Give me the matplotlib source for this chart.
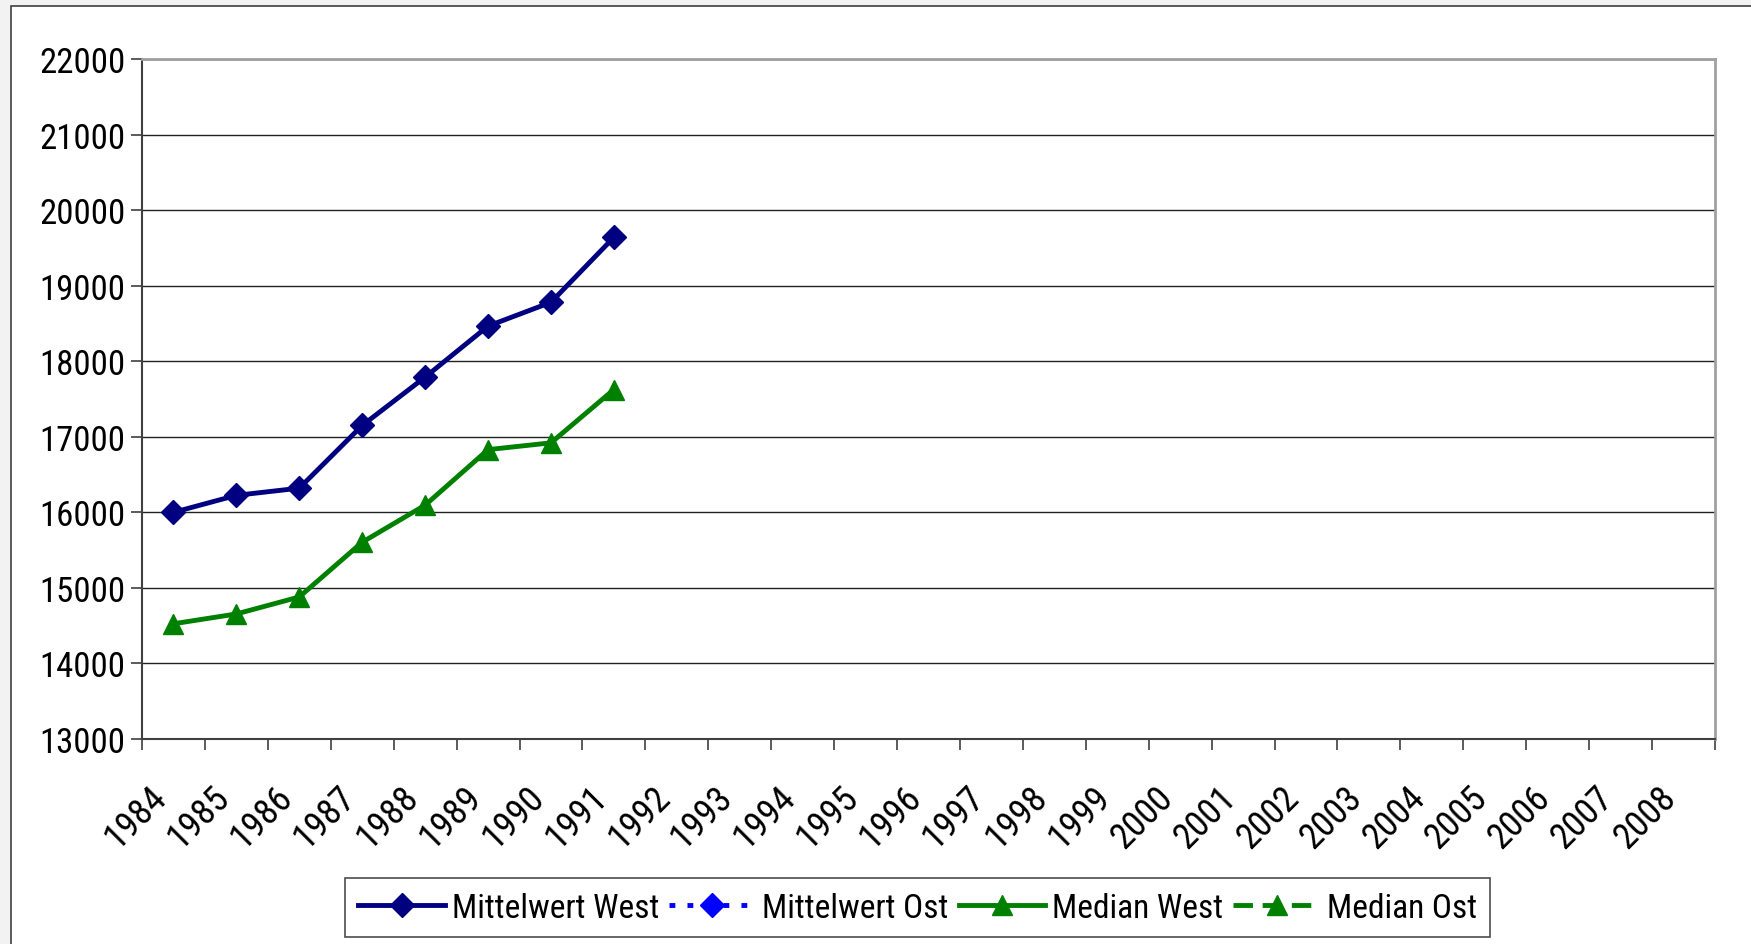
import matplotlib
matplotlib.use("Agg")
import matplotlib.pyplot as plt
from matplotlib.patches import Rectangle
from matplotlib.ticker import FixedLocator

plt.rcParams['font.family'] = ['Roboto Condensed', 'Liberation Sans', 'DejaVu Sans']

# Daten
jahre = [str(j) for j in range(1984, 2009)]
mittelwert_west = [16000, 16225, 16320, 17150, 17790, 18465, 18780, 19640]
mittelwert_ost = []
median_west = [14525, 14655, 14880, 15605, 16095, 16830, 16920, 17625]
median_ost = []

fig = plt.figure(figsize=(17.51, 9.45), dpi=100)
fig.patch.set_facecolor('#f2f2f2')

# weisser Diagrammbereich mit Rahmen
fig.patches.append(Rectangle((11 / 1751, -0.02), 1.05, 1 - 7 / 945 + 0.02,
                             transform=fig.transFigure, facecolor='white',
                             edgecolor='#404040', linewidth=1.2, zorder=-10))

ax = fig.add_axes([142 / 1751, 1 - 740 / 945, (1715 - 142) / 1751, (740 - 60) / 945])
ax.set_facecolor('white')

x = list(range(len(jahre)))
ax.plot(x[:len(mittelwert_west)], mittelwert_west, color='#000080', lw=3.5,
        marker='D', markersize=12, label='Mittelwert West', zorder=3)
ax.plot(x[:len(mittelwert_ost)], mittelwert_ost, color='#0000ff', lw=3.5, ls=(0, (1.2, 2.5)),
        marker='D', markersize=12, label='Mittelwert Ost', zorder=3)
ax.plot(x[:len(median_west)], median_west, color='#008000', lw=3.5,
        marker='^', markersize=15, label='Median West', zorder=3)
ax.plot(x[:len(median_ost)], median_ost, color='#008000', lw=3.5, ls=(0, (4, 2)),
        marker='^', markersize=15, label='Median Ost', zorder=3)

ax.set_xlim(-0.5, len(jahre) - 0.5)
ax.set_ylim(13000, 22000)
ax.set_yticks(range(13000, 22001, 1000))
ax.yaxis.grid(True, color='#222222', lw=1)
ax.set_axisbelow(True)

ax.set_xticks(x)
ax.set_xticklabels(jahre, rotation=45, ha='right', va='bottom',
                   rotation_mode='anchor', fontsize=26)
ax.xaxis.set_minor_locator(FixedLocator([i - 0.5 for i in range(len(jahre) + 1)]))
ax.tick_params(axis='x', which='major', length=0, pad=47)
ax.tick_params(axis='x', which='minor', length=8, width=1.2, color='#404040')
ax.tick_params(axis='y', length=8, width=1.2, color='#404040', labelsize=25, pad=4)

for s in ['left', 'bottom']:
    ax.spines[s].set_color('#404040')
    ax.spines[s].set_linewidth(1.5)
for s in ['top', 'right']:
    ax.spines[s].set_color('#a0a0a0')
    ax.spines[s].set_linewidth(2)

leg = fig.legend(loc='lower center', bbox_to_anchor=(0.524, 7 / 945), ncol=4,
                 fontsize=24, frameon=True, fancybox=False, edgecolor='#202020',
                 handlelength=2.6, handletextpad=0.2, columnspacing=0.3,
                 borderpad=0.4, borderaxespad=0)
leg.get_frame().set_linewidth(1.2)

fig.savefig('out.png', dpi=100, facecolor=fig.get_facecolor())
